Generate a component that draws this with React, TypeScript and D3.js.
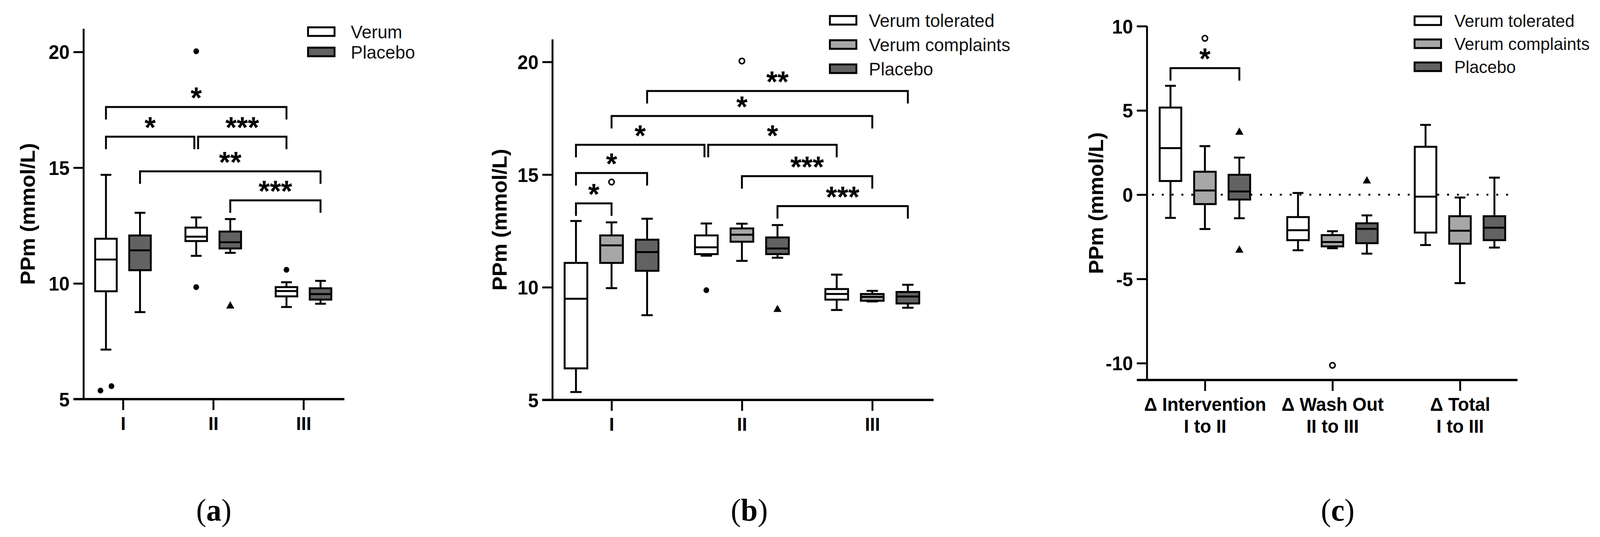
import React, { useEffect, useRef } from 'react';
import * as d3 from 'd3';

const FONT = "'Liberation Sans', Arial, Helvetica, sans-serif";
const STROKE = 5;

// ---------------- data ----------------
const visits = ['I', 'II', 'III'];
const deltas = ['Δ Intervention\nI to II', 'Δ Wash Out\nII to III', 'Δ Total\nI to III'];

const seriesA = ['Verum', 'Placebo'];
const seriesBC = ['Verum tolerated', 'Verum complaints', 'Placebo'];

// box stats: [min, q1, median, q3, max], one row per x category
const verumA = [
  [7.14, 9.66, 11.03, 11.93, 14.69],
  [11.19, 11.83, 12.02, 12.41, 12.85],
  [8.98, 9.44, 9.67, 9.84, 10.05],
];
const placeboA = [
  [8.76, 10.57, 11.43, 12.07, 13.05],
  [11.32, 11.51, 11.78, 12.24, 12.78],
  [9.12, 9.3, 9.54, 9.79, 10.11],
];

const tolB = [
  [5.35, 6.4, 9.49, 11.08, 12.94],
  [11.4, 11.47, 11.77, 12.3, 12.83],
  [8.99, 9.45, 9.7, 9.92, 10.56],
];
const complB = [
  [9.96, 11.08, 11.86, 12.3, 12.88],
  [11.17, 12.02, 12.33, 12.61, 12.82],
  [9.37, 9.4, 9.57, 9.7, 9.84],
];
const placeboB = [
  [8.76, 10.73, 11.56, 12.11, 13.04],
  [11.31, 11.47, 11.72, 12.21, 12.76],
  [9.09, 9.28, 9.59, 9.79, 10.11],
];

const tolC = [
  [-1.38, 0.81, 2.76, 5.17, 6.46],
  [-3.3, -2.7, -2.11, -1.33, 0.1],
  [-2.99, -2.25, -0.12, 2.84, 4.14],
];
const complC = [
  [-2.04, -0.56, 0.25, 1.36, 2.88],
  [-3.18, -3.07, -2.81, -2.4, -2.17],
  [-5.25, -2.91, -2.14, -1.28, -0.17],
];
const placeboC = [
  [-1.4, -0.29, 0.19, 1.18, 2.2],
  [-3.5, -2.88, -2.03, -1.7, -1.23],
  [-3.14, -2.7, -1.96, -1.28, 1.01],
];

// outliers: [category, series, value]
const outliersA: [string, string, number][] = [
  ['I', 'Verum', 5.37],
  ['I', 'Verum', 5.56],
  ['II', 'Verum', 20.03],
  ['II', 'Verum', 9.84],
  ['III', 'Verum', 10.59],
  ['II', 'Placebo', 9.02],
];
const outliersB: [string, string, number][] = [
  ['I', 'Verum complaints', 14.67],
  ['II', 'Verum tolerated', 9.87],
  ['II', 'Verum complaints', 20.04],
  ['II', 'Placebo', 9.01],
];
const outliersC: [string, string, number][] = [
  [deltas[0], 'Verum complaints', 9.28],
  [deltas[0], 'Placebo', 3.7],
  [deltas[0], 'Placebo', -3.3],
  [deltas[1], 'Verum complaints', -10.13],
  [deltas[1], 'Placebo', 0.81],
];

// significance brackets: [from cat, from series, to cat, to series, level, label]
type Bracket = [string, string, string, string, number, string];
const bracketsA: Bracket[] = [
  ['I', 'Verum', 'III', 'Verum', 17.62, '*'],
  ['I', 'Verum', 'II', 'Verum', 16.34, '*'],
  ['II', 'Verum', 'III', 'Verum', 16.34, '***'],
  ['I', 'Placebo', 'III', 'Placebo', 14.84, '**'],
  ['II', 'Placebo', 'III', 'Placebo', 13.59, '***'],
];
const bracketsB: Bracket[] = [
  ['I', 'Placebo', 'III', 'Placebo', 18.71, '**'],
  ['I', 'Verum complaints', 'III', 'Verum complaints', 17.6, '*'],
  ['I', 'Verum tolerated', 'II', 'Verum tolerated', 16.32, '*'],
  ['II', 'Verum tolerated', 'III', 'Verum tolerated', 16.32, '*'],
  ['I', 'Verum tolerated', 'I', 'Placebo', 15.07, '*'],
  ['II', 'Verum complaints', 'III', 'Verum complaints', 14.93, '***'],
  ['I', 'Verum tolerated', 'I', 'Verum complaints', 13.72, '*'],
  ['II', 'Placebo', 'III', 'Placebo', 13.6, '***'],
];
const bracketsC: Bracket[] = [[deltas[0], 'Verum tolerated', deltas[0], 'Placebo', 7.51, '*']];

const ticksAB = [5, 10, 15, 20];
const ticksC = [-10, -5, 0, 5, 10];

// ---------------- styles ----------------
const fills: Record<string, string> = {
  Verum: '#ffffff',
  'Verum tolerated': '#ffffff',
  'Verum complaints': '#a7a7a7',
  Placebo: '#626262',
};
const symbols: Record<string, string> = {
  Verum: 'dot',
  'Verum tolerated': 'dot',
  'Verum complaints': 'ring',
  Placebo: 'tri',
};

interface PanelCfg {
  categories: string[];
  series: string[];
  stats: number[][][];
  outliers: [string, string, number][];
  brackets: Bracket[];
  axisX: [number, number];
  catRange: [number, number];
  yDomain: [number, number];
  yRange: [number, number];
  yTicks: number[];
  groupHalf: number;
  boxW: number;
  legend: { x: number; y: number; step: number; textX: number; size: number };
  yLabelX: number;
  zeroLine?: boolean;
}

const panels: PanelCfg[] = [
  {
    categories: visits,
    series: seriesA,
    stats: [verumA, placeboA],
    outliers: outliersA,
    brackets: bracketsA,
    axisX: [221, 910],
    catRange: [325, 802],
    yDomain: [5, 21],
    yRange: [1022, 73.7],
    yTicks: ticksAB,
    groupHalf: 90,
    boxW: 57,
    legend: { x: 814, y: 81, step: 52, textX: 927, size: 47 },
    yLabelX: 72,
  },
  {
    categories: visits,
    series: seriesBC,
    stats: [tolB, complB, placeboB],
    outliers: outliersB,
    brackets: bracketsB,
    axisX: [1460, 2467],
    catRange: [1616, 2305],
    yDomain: [5, 21],
    yRange: [1024, 100.8],
    yTicks: ticksAB,
    groupHalf: 141,
    boxW: 60,
    legend: { x: 2193, y: 52, step: 62, textX: 2296, size: 47 },
    yLabelX: 1319,
  },
  {
    categories: deltas,
    series: seriesBC,
    stats: [tolC, complC, placeboC],
    outliers: outliersC,
    brackets: bracketsC,
    axisX: [3031, 4010],
    catRange: [3184, 3858],
    yDomain: [-11, 10],
    yRange: [973, 67],
    yTicks: ticksC,
    groupHalf: 136.5,
    boxW: 57,
    legend: { x: 3738, y: 53, step: 59, textX: 3843, size: 45 },
    yLabelX: 2896,
    zeroLine: true,
  },
];

const captions = [
  { label: 'a', x: 565 },
  { label: 'b', x: 1980 },
  { label: 'c', x: 3535 },
];

function BoxPanel({ cfg }: { cfg: PanelCfg }) {
  const gRef = useRef<SVGGElement>(null);

  useEffect(() => {
    const root = d3.select(gRef.current);
    root.selectAll('*').remove();

    const x = d3.scalePoint<string>().domain(cfg.categories).range(cfg.catRange);
    const xs = d3
      .scaleBand<string>()
      .domain(cfg.series)
      .range([-cfg.groupHalf, cfg.groupHalf]);
    const cx = (c: string, s: string) => (x(c) ?? 0) + (xs(s) ?? 0) + xs.bandwidth() / 2;
    const y = d3.scaleLinear().domain(cfg.yDomain).range(cfg.yRange);
    const [x0, x1] = cfg.axisX;
    const yBase = y(cfg.yDomain[0]);
    const yTop = y(cfg.yDomain[1]);
    const w = cfg.boxW;

    // zero reference line
    if (cfg.zeroLine) {
      root
        .append('line')
        .attr('x1', x0 + 13)
        .attr('x2', x1 - 13)
        .attr('y1', y(0))
        .attr('y2', y(0))
        .attr('stroke', '#000')
        .attr('stroke-width', 5)
        .attr('stroke-dasharray', '5 21');
    }

    // y axis
    const gy = root.append('g').attr('transform', `translate(${x0},0)`);
    gy.call(
      d3
        .axisLeft(y)
        .tickValues(cfg.yTicks)
        .tickFormat((d) => String(d))
        .tickSize(27)
        .tickPadding(10)
        .tickSizeOuter(0)
    )
      .attr('font-family', FONT)
      .attr('font-size', 50)
      .attr('font-weight', 'bold')
      .call((g) => g.select('.domain').remove())
      .call((g) => g.selectAll('.tick line').attr('stroke', '#000').attr('stroke-width', STROKE))
      .call((g) => g.selectAll('.tick text').attr('fill', '#000').attr('dy', '0.36em'));
    gy.append('line')
      .attr('y1', yTop)
      .attr('y2', yBase)
      .attr('stroke', '#000')
      .attr('stroke-width', STROKE);

    // x axis
    const gx = root.append('g').attr('transform', `translate(0,${yBase})`);
    gx.call(d3.axisBottom(x).tickSize(28).tickPadding(17).tickSizeOuter(0))
      .attr('font-family', FONT)
      .attr('font-size', 48)
      .attr('font-weight', 'bold')
      .call((g) => g.select('.domain').remove())
      .call((g) => g.selectAll('.tick line').attr('stroke', '#000').attr('stroke-width', STROKE))
      .call((g) =>
        g.selectAll<SVGTextElement, string>('.tick text').each(function (d) {
          const lines = d.split('\n');
          if (lines.length < 2) return;
          const t = d3.select(this).text('');
          lines.forEach((ln, i) => {
            t.append('tspan')
              .attr('x', 0)
              .attr('dy', i === 0 ? '0.71em' : '1.17em')
              .text(ln);
          });
        })
      )
      .call((g) => g.selectAll('.tick text').attr('fill', '#000'));
    gx.append('line')
      .attr('x1', x0 - 27)
      .attr('x2', x1)
      .attr('stroke', '#000')
      .attr('stroke-width', STROKE + 1);

    // y label
    root
      .append('text')
      .attr('transform', `translate(${cfg.yLabelX},${(yTop + yBase) / 2}) rotate(-90)`)
      .attr('text-anchor', 'middle')
      .attr('dy', '0.36em')
      .attr('font-family', FONT)
      .attr('font-size', 54)
      .attr('font-weight', 'bold')
      .text('PPm (mmol/L)');

    // boxes
    const boxes = cfg.series.flatMap((s, si) =>
      cfg.categories.map((c, ci) => ({ s, c, v: cfg.stats[si][ci] }))
    );
    const gb = root
      .append('g')
      .attr('stroke', '#000')
      .attr('stroke-width', STROKE)
      .selectAll('g')
      .data(boxes)
      .join('g');
    gb.append('line')
      .attr('x1', (d) => cx(d.c, d.s))
      .attr('x2', (d) => cx(d.c, d.s))
      .attr('y1', (d) => y(d.v[0]))
      .attr('y2', (d) => y(d.v[4]));
    gb.selectAll('line.cap')
      .data((d) => [d, d].map((e, i) => ({ ...e, at: i === 0 ? e.v[0] : e.v[4] })))
      .join('line')
      .attr('class', 'cap')
      .attr('x1', (d) => cx(d.c, d.s) - w / 4)
      .attr('x2', (d) => cx(d.c, d.s) + w / 4)
      .attr('y1', (d) => y(d.at))
      .attr('y2', (d) => y(d.at));
    gb.append('rect')
      .attr('x', (d) => cx(d.c, d.s) - w / 2)
      .attr('width', w)
      .attr('y', (d) => y(d.v[3]))
      .attr('height', (d) => y(d.v[1]) - y(d.v[3]))
      .attr('fill', (d) => fills[d.s]);
    gb.append('line')
      .attr('x1', (d) => cx(d.c, d.s) - w / 2)
      .attr('x2', (d) => cx(d.c, d.s) + w / 2)
      .attr('y1', (d) => y(d.v[2]))
      .attr('y2', (d) => y(d.v[2]));

    // outliers, spread sideways when they would overlap
    const pts = cfg.outliers.map(([c, s, v]) => ({ c, s, v, dx: 0 }));
    d3.groups(pts, (p) => p.c + '|' + p.s).forEach(([, arr]) => {
      arr.sort((a, b) => a.v - b.v);
      let cluster: typeof arr = [];
      const flush = () => {
        cluster.forEach((p, j) => (p.dx = (j - (cluster.length - 1) / 2) * 29));
        cluster = [];
      };
      arr.forEach((p, i) => {
        if (i > 0 && Math.abs(y(p.v) - y(arr[i - 1].v)) > 22) flush();
        cluster.push(p);
      });
      flush();
    });
    const go = root.append('g');
    pts.forEach((p) => {
      const px = cx(p.c, p.s) + p.dx;
      const py = y(p.v);
      const kind = symbols[p.s];
      if (kind === 'tri') {
        go.append('path')
          .attr('d', d3.symbol(d3.symbolTriangle, 200)())
          .attr('transform', `translate(${px},${py})`)
          .attr('fill', '#000');
      } else if (kind === 'ring') {
        go.append('circle')
          .attr('cx', px)
          .attr('cy', py)
          .attr('r', 7)
          .attr('fill', '#fff')
          .attr('stroke', '#000')
          .attr('stroke-width', 4);
      } else {
        go.append('circle').attr('cx', px).attr('cy', py).attr('r', 7.5).attr('fill', '#000');
      }
    });

    // significance brackets
    const key = (c: string, s: string, lv: number) => `${c}|${s}|${lv}`;
    const ends = new Map<string, number>();
    cfg.brackets.forEach(([c1, s1, c2, s2, lv]) => {
      [key(c1, s1, lv), key(c2, s2, lv)].forEach((k) => ends.set(k, (ends.get(k) ?? 0) + 1));
    });
    const leg = 32;
    const gs = root.append('g');
    cfg.brackets.forEach(([c1, s1, c2, s2, lv, label]) => {
      const shared1 = (ends.get(key(c1, s1, lv)) ?? 0) > 1 ? 5 : 0;
      const shared2 = (ends.get(key(c2, s2, lv)) ?? 0) > 1 ? 5 : 0;
      const bx1 = cx(c1, s1) + shared1;
      const bx2 = cx(c2, s2) - shared2;
      const by = y(lv);
      gs.append('path')
        .attr('d', `M${bx1},${by + leg}V${by}H${bx2}V${by + leg}`)
        .attr('fill', 'none')
        .attr('stroke', '#000')
        .attr('stroke-width', STROKE);
      gs.append('text')
        .attr('x', (bx1 + bx2) / 2)
        .attr('y', by + 2)
        .attr('text-anchor', 'middle')
        .attr('font-family', FONT)
        .attr('font-weight', 'bold')
        .attr('font-size', 76)
        .text(label);
    });

    // legend
    const lg = root
      .append('g')
      .selectAll('g')
      .data(cfg.series)
      .join('g')
      .attr('transform', (_, i) => `translate(0,${cfg.legend.y + i * cfg.legend.step})`);
    lg.append('rect')
      .attr('x', cfg.legend.x)
      .attr('y', -11)
      .attr('width', 70)
      .attr('height', 22)
      .attr('fill', (d) => fills[d])
      .attr('stroke', '#000')
      .attr('stroke-width', STROKE);
    lg.append('text')
      .attr('x', cfg.legend.textX)
      .attr('dy', '0.36em')
      .attr('font-family', FONT)
      .attr('font-size', cfg.legend.size)
      .attr('fill', '#111')
      .text((d) => d);
  }, [cfg]);

  return <g ref={gRef} />;
}

export default function App() {
  return (
    <svg
      viewBox="0 0 4228 1375"
      preserveAspectRatio="none"
      style={{
        position: 'absolute',
        left: 0,
        top: 0,
        width: '100vw',
        height: '100vh',
        background: '#fff',
      }}
    >
      <rect width={4228} height={1375} fill="#fff" />
      {panels.map((p, i) => (
        <BoxPanel key={i} cfg={p} />
      ))}
      {captions.map((c) => (
        <text
          key={c.label}
          x={c.x}
          y={1333}
          textAnchor="middle"
          fontFamily="'Liberation Serif', 'DejaVu Serif', serif"
          fontSize={80}
        >
          (<tspan fontWeight="bold">{c.label}</tspan>)
        </text>
      ))}
    </svg>
  );
}
